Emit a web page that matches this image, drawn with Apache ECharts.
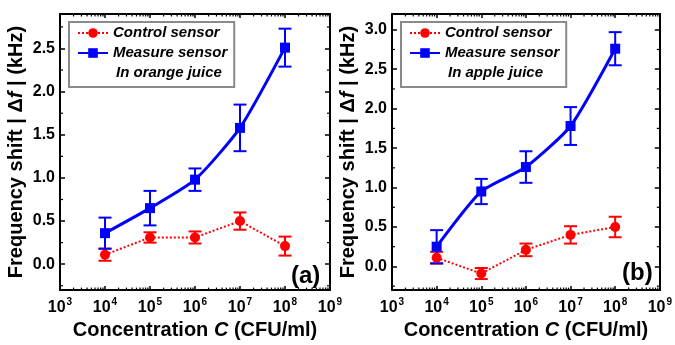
<!DOCTYPE html>
<html>
<head>
<meta charset="utf-8">
<script src="https://cdn.jsdelivr.net/npm/echarts@6/dist/echarts.min.js"></script>
<style>
  html, body { margin: 0; padding: 0; background: #fff; }
  #chart { width: 675px; height: 345px; }
</style>
</head>
<body>
<div id="chart"></div>
<script>
// concentration of bacteria (CFU/ml)
const concentrations = [1e4, 1e5, 1e6, 1e7, 1e8]

// (a) orange juice
const orangeControl = [0.11, 0.31, 0.31, 0.50, 0.21]
const orangeControlErr = [0.07, 0.06, 0.07, 0.10, 0.11]
const orangeMeasure = [0.36, 0.65, 0.98, 1.58, 2.51]
const orangeMeasureErr = [0.18, 0.20, 0.13, 0.27, 0.22]

// (b) apple juice
const appleControl = [0.11, -0.09, 0.21, 0.40, 0.50]
const appleControlErr = [0.075, 0.07, 0.08, 0.11, 0.13]
const appleMeasure = [0.25, 0.95, 1.26, 1.78, 2.76]
const appleMeasureErr = [0.21, 0.16, 0.20, 0.24, 0.21]

// axis decoration
const decades = [1e3, 1e4, 1e5, 1e6, 1e7, 1e8]
const minorFactors = [2, 3, 4, 5, 6, 7, 8, 9]
const yMinorTicks = [-0.25, 0.25, 0.75, 1.25, 1.75, 2.25, 2.75]

const FONT = 'Liberation Sans, Arial, sans-serif'
const RED = '#ff0000'
const BLUE = '#0000ff'

const chart = echarts.init(document.getElementById('chart'))

function xAxis(gridIndex, top) {
  return {
    type: 'log',
    logBase: 10,
    gridIndex: gridIndex,
    position: top ? 'top' : 'bottom',
    min: 1e3,
    max: 1e9,
    splitNumber: 6,
    axisLine: { show: true, onZero: false, lineStyle: { color: '#000', width: 2 } },
    axisTick: { show: true, inside: true, length: 4, lineStyle: { color: '#000', width: 1.5 } },
    splitLine: { show: false },
    axisLabel: {
      show: !top,
      margin: 7,
      formatter: (v) => '{b|10}{s|' + Math.round(Math.log10(v)) + '}',
      rich: {
        b: { fontFamily: FONT, fontWeight: 'bold', fontSize: 16, color: '#000' },
        s: { fontFamily: FONT, fontWeight: 'bold', fontSize: 10, color: '#000', padding: [0, 0, 10, 1] }
      }
    },
    name: top ? '' : '{n|Concentration }{i|C}{n| (CFU/ml)}',
    nameLocation: 'middle',
    nameGap: 26,
    nameTextStyle: {
      rich: {
        n: { fontFamily: FONT, fontWeight: 'bold', fontSize: 20, color: '#000' },
        i: { fontFamily: FONT, fontWeight: 'bold', fontStyle: 'italic', fontSize: 20, color: '#000' }
      }
    }
  }
}

function yAxis(gridIndex, right, max) {
  return {
    type: 'value',
    gridIndex: gridIndex,
    position: right ? 'right' : 'left',
    min: -0.3,
    max: max,
    minInterval: 0.5,
    maxInterval: 0.5,
    axisLine: { show: true, onZero: false, lineStyle: { color: '#000', width: 2 } },
    axisTick: { show: true, inside: true, length: 5, lineStyle: { color: '#000', width: 1.5 } },
    splitLine: { show: false },
    axisLabel: {
      show: !right,
      margin: 5,
      fontFamily: FONT,
      fontWeight: 'bold',
      fontSize: 16,
      color: '#000',
      formatter: (v) => (Math.abs(v * 2 - Math.round(v * 2)) > 1e-6 ? '' : v.toFixed(1))
    },
    name: right ? '' : '{n|Frequency shift | Δ}{i|f}{n| | (kHz)}',
    nameLocation: 'middle',
    nameRotate: 90,
    nameGap: 34,
    nameTextStyle: {
      rich: {
        n: { fontFamily: FONT, fontWeight: 'bold', fontSize: 20, color: '#000' },
        i: { fontFamily: FONT, fontWeight: 'bold', fontStyle: 'italic', fontSize: 20, color: '#000' }
      }
    }
  }
}

// 误差棒
function errorSeries(axisIndex, vals, errs, color) {
  return {
    type: 'custom',
    xAxisIndex: axisIndex,
    yAxisIndex: axisIndex,
    z: 2,
    silent: true,
    data: concentrations.map((c, i) => [c, vals[i] - errs[i], vals[i] + errs[i]]),
    encode: { x: 0, y: [1, 2] },
    renderItem: (params, api) => {
      const lo = api.coord([api.value(0), api.value(1)])
      const hi = api.coord([api.value(0), api.value(2)])
      const w = 6.5
      const style = { stroke: color, lineWidth: 2 }
      return {
        type: 'group',
        children: [
          { type: 'line', shape: { x1: lo[0], y1: lo[1], x2: hi[0], y2: hi[1] }, style: style },
          { type: 'line', shape: { x1: lo[0] - w, y1: lo[1], x2: lo[0] + w, y2: lo[1] }, style: style },
          { type: 'line', shape: { x1: hi[0] - w, y1: hi[1], x2: hi[0] + w, y2: hi[1] }, style: style }
        ]
      }
    }
  }
}

// log 轴次刻度 (2..9 × 10^n)，上下两边
function xMinorSeries(axisIndex) {
  const data = []
  decades.forEach((d) => minorFactors.forEach((f) => data.push([d * f, 0])))
  return {
    type: 'custom',
    xAxisIndex: axisIndex,
    yAxisIndex: axisIndex,
    silent: true,
    z: 1,
    data: data,
    renderItem: (params, api) => {
      const p = api.coord([api.value(0), 0])
      const cs = params.coordSys
      const style = { stroke: '#000', lineWidth: 1.2 }
      const b = cs.y + cs.height
      return {
        type: 'group',
        children: [
          { type: 'line', shape: { x1: p[0], y1: b, x2: p[0], y2: b - 2.5 }, style: style },
          { type: 'line', shape: { x1: p[0], y1: cs.y, x2: p[0], y2: cs.y + 2.5 }, style: style }
        ]
      }
    }
  }
}

// y 轴次刻度，左右两边
function yMinorSeries(axisIndex) {
  return {
    type: 'custom',
    xAxisIndex: axisIndex,
    yAxisIndex: axisIndex,
    silent: true,
    z: 1,
    data: yMinorTicks.map((v) => [1e4, v]),
    renderItem: (params, api) => {
      const p = api.coord([1e4, api.value(1)])
      const cs = params.coordSys
      const style = { stroke: '#000', lineWidth: 1.2 }
      const r = cs.x + cs.width
      return {
        type: 'group',
        children: [
          { type: 'line', shape: { x1: cs.x, y1: p[1], x2: cs.x + 3, y2: p[1] }, style: style },
          { type: 'line', shape: { x1: r, y1: p[1], x2: r - 3, y2: p[1] }, style: style }
        ]
      }
    }
  }
}

function controlSeries(axisIndex, vals) {
  return {
    type: 'line',
    name: 'Control sensor',
    xAxisIndex: axisIndex,
    yAxisIndex: axisIndex,
    z: 3,
    data: concentrations.map((c, i) => [c, vals[i]]),
    symbol: 'circle',
    symbolSize: 10,
    itemStyle: { color: RED },
    lineStyle: { color: RED, width: 2, type: 'dotted' }
  }
}

function measureSeries(axisIndex, vals) {
  return {
    type: 'line',
    name: 'Measure sensor',
    xAxisIndex: axisIndex,
    yAxisIndex: axisIndex,
    z: 4,
    smooth: 0.2,
    data: concentrations.map((c, i) => [c, vals[i]]),
    symbol: 'rect',
    symbolSize: 10,
    itemStyle: { color: BLUE },
    lineStyle: { color: BLUE, width: 3 }
  }
}

function legend(left, juiceName) {
  return {
    left: left,
    top: 22,
    orient: 'vertical',
    z: 10,
    itemWidth: 30,
    itemHeight: 12,
    itemGap: 0,
    padding: [1, 7, 4, 8],
    borderColor: '#8a8a8a',
    borderWidth: 2,
    backgroundColor: '#fff',
    selectedMode: false,
    textStyle: { fontFamily: FONT, fontWeight: 'bold', fontStyle: 'italic', fontSize: 15, color: '#000', lineHeight: 20 },
    data: ['Control sensor', 'Measure sensor', { name: juiceName, icon: 'none', textStyle: { padding: [0, 0, 0, 3] } }]
  }
}

const option = {
  animation: false,
  backgroundColor: '#fff',
  grid: [
    { left: 60, top: 14, width: 270, height: 282 },
    { left: 392, top: 14, width: 272, height: 282 }
  ],
  xAxis: [xAxis(0, false), xAxis(0, true), xAxis(1, false), xAxis(1, true)],
  yAxis: [yAxis(0, false, 2.9), yAxis(0, true, 2.9), yAxis(1, false, 3.2), yAxis(1, true, 3.2)],
  legend: [legend(69, 'In orange juice'), legend(401, 'In apple juice')],
  graphic: [
    { type: 'text', left: 291, top: 264, z: 10, style: { text: '(a)', font: 'bold 24px ' + FONT, fill: '#000' } },
    { type: 'text', left: 622, top: 261, z: 10, style: { text: '(b)', font: 'bold 24px ' + FONT, fill: '#000' } }
  ],
  series: [
    xMinorSeries(0),
    yMinorSeries(0),
    errorSeries(0, orangeControl, orangeControlErr, RED),
    errorSeries(0, orangeMeasure, orangeMeasureErr, BLUE),
    controlSeries(0, orangeControl),
    measureSeries(0, orangeMeasure),
    { type: 'line', name: 'In orange juice', xAxisIndex: 0, yAxisIndex: 0, data: [] },

    xMinorSeries(2),
    yMinorSeries(2),
    errorSeries(2, appleControl, appleControlErr, RED),
    errorSeries(2, appleMeasure, appleMeasureErr, BLUE),
    controlSeries(2, appleControl),
    measureSeries(2, appleMeasure),
    { type: 'line', name: 'In apple juice', xAxisIndex: 2, yAxisIndex: 2, data: [] }
  ]
}

chart.setOption(option)
</script>
</body>
</html>
